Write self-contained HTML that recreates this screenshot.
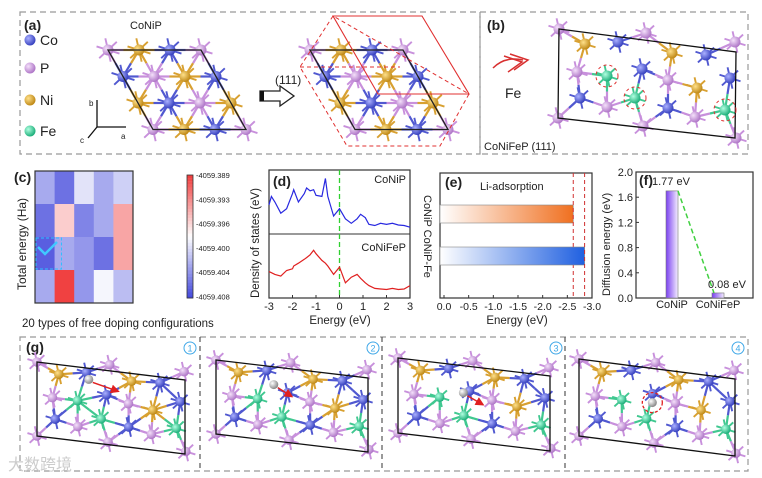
<!DOCTYPE html>
<html><head><meta charset="utf-8"><style>
html,body{margin:0;padding:0;background:#fff;}
svg{display:block;font-family:"Liberation Sans","Noto Sans CJK SC",sans-serif;}
</style></head><body>
<svg id="fig" width="762" height="478" viewBox="0 0 762 478" xmlns="http://www.w3.org/2000/svg">
<defs>
<radialGradient id="gC" cx="35%" cy="35%" r="65%"><stop offset="0" stop-color="#aab0ff"/><stop offset="1" stop-color="#3a44c0"/></radialGradient>
<radialGradient id="gP" cx="35%" cy="35%" r="65%"><stop offset="0" stop-color="#f4e0fa"/><stop offset="1" stop-color="#b078c8"/></radialGradient>
<radialGradient id="gN" cx="35%" cy="35%" r="65%"><stop offset="0" stop-color="#ffe08a"/><stop offset="1" stop-color="#c08a18"/></radialGradient>
<radialGradient id="gF" cx="35%" cy="35%" r="65%"><stop offset="0" stop-color="#b0ffe0"/><stop offset="1" stop-color="#20b07c"/></radialGradient>
<radialGradient id="gH" cx="35%" cy="35%" r="65%"><stop offset="0" stop-color="#ffffff"/><stop offset="1" stop-color="#8a8a8a"/></radialGradient>
<linearGradient id="gOr" x1="0" x2="1"><stop offset="0" stop-color="#fff"/><stop offset="1" stop-color="#f07020"/></linearGradient>
<linearGradient id="gBl" x1="0" x2="1"><stop offset="0" stop-color="#fff"/><stop offset="1" stop-color="#2060e0"/></linearGradient>
<linearGradient id="gPu" x1="0" x2="1"><stop offset="0" stop-color="#7a40f0"/><stop offset="1" stop-color="#f4eeff"/></linearGradient>
<marker id="arr" markerWidth="6" markerHeight="6" refX="5" refY="3" orient="auto"><path d="M0,0 L6,3 L0,6 z" fill="#e02020"/></marker>
</defs>
</svg>
<script>
// ---- chart data ----
const heatRows = [
  [-4059.403, -4059.406, -4059.400, -4059.403, -4059.401],
  [-4059.406, -4059.396, -4059.405, -4059.403, -4059.394],
  [-4059.407, -4059.403, -4059.404, -4059.406, -4059.394],
  [-4059.403, -4059.389, -4059.404, -4059.399, -4059.402]
];
const cbarTicks = ['-4059.389','-4059.393','-4059.396','-4059.400','-4059.404','-4059.408'];
const dosEnergy = [-3,-2.9,-2.75,-2.5,-2.25,-2,-1.95,-1.75,-1.5,-1.4,-1.25,-1.1,-1,-0.75,-0.6,-0.5,-0.25,0,0.25,0.5,0.75,0.9,1.1,1.25,1.5,1.75,2,2.25,2.5,2.75,3];
const dosCoNiP = [0.45,0.6,0.5,0.3,0.38,0.65,0.72,0.5,0.65,0.75,0.7,0.72,0.62,0.6,0.92,0.6,0.25,0.38,0.2,0.12,0.2,0.28,0.22,0.1,0.08,0.12,0.1,0.12,0.09,0.08,0.05];
const dosCoNiFeP = [0.4,0.38,0.35,0.32,0.42,0.45,0.5,0.55,0.62,0.65,0.7,0.78,0.72,0.6,0.55,0.5,0.35,0.48,0.2,0.3,0.35,0.28,0.2,0.15,0.1,0.09,0.08,0.1,0.08,0.09,0.15];
const dosTicks = [-3,-2,-1,0,1,2,3];
const adsNames = ['CoNiP','CoNiP-Fe'];
const adsValues = [-2.62, -2.85];
const adsTicks = [0,-0.5,-1,-1.5,-2,-2.5,-3];
const diffNames = ['CoNiP','CoNiFeP'];
const diffValues = [1.70, 0.08];
const diffLabels = ['1.77 eV','0.08 eV'];
const diffTicks = [0,0.4,0.8,1.2,1.6,2.0];

const NS='http://www.w3.org/2000/svg';
const svg=document.getElementById('fig');
function mk(tag, attrs, name, parent){
  const el=document.createElementNS(NS,tag);
  for(const k in attrs) el.setAttribute(k,attrs[k]);
  
  
  (parent||svg).appendChild(el);
  return el;
}
function txt(x,y,s,size,name,extra){
  const a=Object.assign({x:x,y:y,'font-size':size,fill:'#222'},extra||{});
  const t=mk('text',a,name);
  t.textContent=s;
  return t;
}
const COL={C:'#5058d0',P:'#c890dc',N:'#d8a030',F:'#40c890'};
const GR={C:'url(#gC)',P:'url(#gP)',N:'url(#gN)',F:'url(#gF)'};

// ---- panel frames ----
const dash={fill:'none',stroke:'#999','stroke-dasharray':'6,4','stroke-width':1.2};
mk('rect',Object.assign({x:20,y:12,width:460,height:142},dash),'panel-a-frame');
mk('rect',Object.assign({x:480,y:12,width:268,height:142},dash),'panel-b-frame');
mk('rect',Object.assign({x:20,y:337,width:728,height:134},dash),'panel-g-frame');
[200,382,565].forEach(function(x){ mk('line',{x1:x,y1:337,x2:x,y2:471,stroke:'#555','stroke-dasharray':'5,4','stroke-width':1.2},'panel-g-divider'); });

// ---- crystal drawing ----
function drawAtoms(atoms, r, spike, name){
  const g=mk('g',{},name);
  const sp=mk('g',{},'spikes',g);
  atoms.forEach(function(a){
    for(let k=0;k<6;k++){
      const ang=k*Math.PI/3+0.3;
      mk('line',{x1:a[0],y1:a[1],x2:a[0]+spike*Math.cos(ang),y2:a[1]+spike*Math.sin(ang),stroke:COL[a[2]],'stroke-width':1.9},'bond-stub',sp);
    }
  });
  const bd=mk('g',{},'bonds',g);
  const lim=spike*3.0;
  for(let i=0;i<atoms.length;i++) for(let j=i+1;j<atoms.length;j++){
    const a=atoms[i],b=atoms[j];
    const d=Math.hypot(a[0]-b[0],a[1]-b[1]);
    if(d<lim){
      const mx=(a[0]+b[0])/2,my=(a[1]+b[1])/2;
      mk('line',{x1:a[0],y1:a[1],x2:mx,y2:my,stroke:COL[a[2]],'stroke-width':2.2},'bond',bd);
      mk('line',{x1:mx,y1:my,x2:b[0],y2:b[1],stroke:COL[b[2]],'stroke-width':2.2},'bond',bd);
    }
  }
  atoms.forEach(function(a){ mk('circle',{cx:a[0],cy:a[1],r:r,fill:GR[a[2]]},'atom-'+a[2],g); });
  return g;
}
function triLattice(ox,oy,rows,name){
  const atoms=[];
  rows.forEach(function(row,j){ for(let i=0;i<row.length;i++) atoms.push([ox+i*31+j*15, oy+j*26.5, row[i]]); });
  drawAtoms(atoms,5.5,12,name);
  mk('polygon',{points:[ox,oy,ox+93,oy,ox+138,oy+79.5,ox+45,oy+79.5].join(','),fill:'none',stroke:'#222','stroke-width':1.3},name+'-cell');
}
// panel a
txt(24,30,'(a)',14,'panel-a-label',{'font-weight':'bold'});
[['C','Co',40],['P','P',68],['N','Ni',100],['F','Fe',131]].forEach(function(e){
  mk('circle',{cx:30,cy:e[2],r:5.5,fill:GR[e[0]]},'legend-marker-'+e[1]);
  txt(40,e[2]+5,e[1],14,'legend-label-'+e[1]);
});
txt(130,29,'CoNiP',11,'structure-title');
triLattice(108,50,['PNCP','CPNC','NCPN','PNCP'],'conip-structure');
mk('line',{x1:97,y1:127,x2:97,y2:100,stroke:'#111','stroke-width':1.3},'axis-b');
mk('line',{x1:97,y1:127,x2:126,y2:127,stroke:'#111','stroke-width':1.3},'axis-a');
mk('line',{x1:97,y1:127,x2:88,y2:138,stroke:'#111','stroke-width':1.3},'axis-c');
txt(89,106,'b',8,'axis-b-label');txt(121,139,'a',8,'axis-a-label');txt(80,143,'c',8,'axis-c-label');
txt(275,84,'(111)',12,'plane-label');
mk('path',{d:'M260,91 h20 v-5 l14,10 l-14,10 v-5 h-20 z',fill:'#fff',stroke:'#222','stroke-width':1.3},'transform-arrow');
mk('rect',{x:260,y:91,width:4,height:10,fill:'#111'},'arrow-tail');
triLattice(310,50,['PNCP','CPNC','NCPN','PNCP'],'slab-structure');
mk('polygon',{points:'333,16 422,16 469,94 378,94',fill:'none',stroke:'#e03030','stroke-width':1.1},'plane-solid');
mk('polygon',{points:'333,16 300,67 347,146 440,146 469,94',fill:'none',stroke:'#e03030','stroke-width':1,'stroke-dasharray':'4,3'},'plane-dashed');
mk('line',{x1:300,y1:67,x2:400,y2:67,stroke:'#e03030','stroke-width':1,'stroke-dasharray':'4,3'},'plane-dashed-inner');

// panel b + g atoms
const baseTL=[559,29], baseE1=[177,23], baseE2=[-1,89];
const baseAtoms=[[559,29,'P'],[585,44,'N'],[618,42,'C'],[646,33,'P'],[672,53,'N'],[706,55,'C'],[735,42,'P'],
 [577,72,'P'],[607,76,'F'],[642,69,'C'],[668,80,'P'],[730,78,'C'],
 [580,98,'C'],[607,107,'P'],[635,98,'F'],[668,108,'C'],[697,88,'N'],[695,117,'P'],[725,110,'F'],
 [558,118,'P'],[643,126,'P'],[736,138,'P']];
function mapAtoms(tl,e1,e2){
  const det=baseE1[0]*baseE2[1]-baseE1[1]*baseE2[0];
  return baseAtoms.map(function(a){
    const dx=a[0]-baseTL[0], dy=a[1]-baseTL[1];
    const u=(dx*baseE2[1]-dy*baseE2[0])/det, v=(baseE1[0]*dy-baseE1[1]*dx)/det;
    return [tl[0]+u*e1[0]+v*e2[0], tl[1]+u*e1[1]+v*e2[1], a[2]];
  });
}
function cell(tl,e1,e2,name){
  mk('polygon',{points:[tl[0],tl[1],tl[0]+e1[0],tl[1]+e1[1],tl[0]+e1[0]+e2[0],tl[1]+e1[1]+e2[1]+(name.indexOf('b')>=0?-3:0),tl[0]+e2[0],tl[1]+e2[1]].join(','),fill:'none',stroke:'#111','stroke-width':1.3},name);
}
txt(487,30,'(b)',14,'panel-b-label',{'font-weight':'bold'});
mk('path',{d:'M493,68 q12,-12 30,-8',fill:'none',stroke:'#d83030','stroke-width':1.5},'fe-arrow-curve');
mk('path',{d:'M510,54 l18,6 l-14,10 M504,56 l18,6 l-14,10',fill:'none',stroke:'#d83030','stroke-width':1.5},'fe-arrow-head');
txt(505,98,'Fe',14,'fe-label');
drawAtoms(baseAtoms,5.5,11,'conifep-structure');
cell(baseTL,baseE1,baseE2,'panel-b-cell');
[[607,76],[635,98],[725,110]].forEach(function(p){ mk('circle',{cx:p[0],cy:p[1],r:11,fill:'none',stroke:'#e03030','stroke-dasharray':'3,3','stroke-width':1},'fe-site-highlight'); });
txt(484,150,'CoNiFeP (111)',11,'panel-b-caption');

// panel g
txt(26,352,'(g)',14,'panel-g-label',{'font-weight':'bold'});
const gPanels=[[[37,362],[148,18],[0,74]],[[216,360],[152,18],[0,74]],[[398,358],[152,18],[0,75]],[[579,359],[156,20],[0,77]]];
const hPos=[[0.35,0.25,0.55,0.45],[0.38,0.4,0.5,0.55],[0.43,0.6,0.56,0.75],[0.47,0.74,null,null]];
gPanels.forEach(function(p,k){
  drawAtoms(mapAtoms(p[0],p[1],p[2]),4.8,10,'step-'+(k+1)+'-structure');
  cell(p[0],p[1],p[2],'step-'+(k+1)+'-cell');
  const h=hPos[k];
  const hx=p[0][0]+h[0]*p[1][0], hy=p[0][1]+h[0]*p[1][1]+h[1]*p[2][1]*0.6;
  mk('circle',{cx:hx,cy:hy,r:4.5,fill:'url(#gH)'},'li-atom');
  if(h[2]!==null){
    const tx=p[0][0]+h[2]*p[1][0], ty=hy+12;
    mk('line',{x1:hx+4,y1:hy+3,x2:tx,y2:ty,stroke:'#e02020','stroke-width':1.5,'marker-end':'url(#arr)'},'diffusion-arrow');
  } else {
    mk('circle',{cx:hx,cy:hy,r:10,fill:'none',stroke:'#e02020','stroke-dasharray':'3,2','stroke-width':1.3},'final-site-highlight');
  }
  const cx=[190,373,556,738][k];
  mk('circle',{cx:cx,cy:348,r:6,fill:'none',stroke:'#40a8e8','stroke-width':1},'step-badge');
  txt(cx,351.5,String(k+1),9,'step-number',{fill:'#40a8e8','text-anchor':'middle'});
});
txt(8,470,'大数跨境',16,'watermark',{fill:'#ccc'});

// ---- (c) heatmap ----
txt(14,182,'(c)',14,'panel-c-label',{'font-weight':'bold'});
const hx0=35,hy0=171,cw=19.6,ch=33;
function heatColor(v){
  const t=(v-(-4059.408))/((-4059.389)-(-4059.408));
  let r,g,b;
  if(t<0.5){const s=t/0.5; r=70+185*s; g=75+180*s; b=220+35*s;}
  else {const s=(t-0.5)/0.5; r=255-15*s; g=255-190*s; b=255-190*s;}
  return 'rgb('+Math.round(r)+','+Math.round(g)+','+Math.round(b)+')';
}
heatRows.forEach(function(row,j){ row.forEach(function(v,i){
  mk('rect',{x:hx0+i*cw,y:hy0+j*ch,width:cw+0.3,height:ch+0.3,fill:heatColor(v)},'heat-cell');
});});
mk('rect',{x:hx0,y:hy0,width:cw*5,height:ch*4,fill:'none',stroke:'#333','stroke-width':1.2},'heatmap-frame');
mk('rect',{x:hx0+1,y:hy0+2*ch+1,width:cw*1.3,height:ch-2,fill:'none',stroke:'#30c0ff','stroke-dasharray':'3,2','stroke-width':1},'selected-config');
mk('path',{d:'M38,247 l7,7 l12,-12',fill:'none',stroke:'#40c8ff','stroke-width':2.5},'check-mark');
for(let i=0;i<40;i++){
  const v=-4059.389-(0.019*i/39);
  mk('rect',{x:187,y:175+i*3.08,width:6,height:3.3,fill:heatColor(v)},'colorbar-segment');
}
mk('rect',{x:187,y:175,width:6,height:123,fill:'none',stroke:'#333','stroke-width':0.8},'colorbar-frame');
cbarTicks.forEach(function(s,i){ txt(196,178+i*24.3,s,7.5,'colorbar-tick-label'); });
txt(0,0,'Total energy (Ha)',12,'y-axis-title',{transform:'translate(26,290) rotate(-90)'});
txt(22,327,'20 types of free doping configurations',11.5,'x-axis-title');

// ---- (d) DOS ----
const dx0=269,dx1=410,dy0=170,dmid=234,dy1=298;
function dX(e){return dx0+(e+3)/6*(dx1-dx0);}
mk('rect',{x:dx0,y:dy0,width:dx1-dx0,height:dy1-dy0,fill:'none',stroke:'#333','stroke-width':1.2},'dos-frame');
mk('line',{x1:dx0,y1:dmid,x2:dx1,y2:dmid,stroke:'#333','stroke-width':1},'dos-divider');
mk('line',{x1:dX(0),y1:dy0,x2:dX(0),y2:dy1,stroke:'#30d030','stroke-dasharray':'5,3','stroke-width':1.3},'fermi-level');
function dosLine(vals,top,bot,color,name){
  const pts=dosEnergy.map(function(e,i){return dX(e).toFixed(1)+','+(bot-4-vals[i]*(bot-top-8)).toFixed(1);});
  mk('polyline',{points:pts.join(' '),fill:'none',stroke:color,'stroke-width':1.2},name);
}
dosLine(dosCoNiP,dy0,dmid,'#2828e0','dos-conip');
dosLine(dosCoNiFeP,dmid,dy1,'#e02020','dos-conifep');
txt(273,186,'(d)',14,'panel-d-label',{'font-weight':'bold'});
txt(406,183,'CoNiP',11,'dos-conip-label',{'text-anchor':'end'});
txt(406,251,'CoNiFeP',11,'dos-conifep-label',{'text-anchor':'end'});
dosTicks.forEach(function(e){
  mk('line',{x1:dX(e),y1:dy1,x2:dX(e),y2:dy1-3,stroke:'#333'},'dos-x-tick');
  txt(dX(e),310,String(e),11,'dos-x-tick-label',{'text-anchor':'middle'});
});
txt(340,324,'Energy (eV)',11.5,'dos-x-axis-title',{'text-anchor':'middle'});
txt(0,0,'Density of states (eV)',11.5,'dos-y-axis-title',{transform:'translate(259,298) rotate(-90)'});

// ---- (e) adsorption ----
const ex0=440,ex1=592,ey0=173,ey1=298;
function eX(v){return 444+(-v)/3*148;}
mk('rect',{x:ex0,y:ey0,width:ex1-ex0,height:ey1-ey0,fill:'none',stroke:'#333','stroke-width':1.2},'adsorption-frame');
const barY=[205,247], barFill=['url(#gOr)','url(#gBl)'];
adsValues.forEach(function(v,i){
  mk('rect',{x:ex0,y:barY[i],width:eX(v)-ex0,height:18,fill:barFill[i],stroke:'#888','stroke-width':0.6},'adsorption-bar-'+adsNames[i]);
  mk('line',{x1:eX(v),y1:ey0,x2:eX(v),y2:ey1,stroke:'#d03030','stroke-dasharray':'4,3','stroke-width':1},'adsorption-ref-line');
});
txt(445,187,'(e)',14,'panel-e-label',{'font-weight':'bold'});
txt(480,190,'Li-adsorption',11,'adsorption-title');
adsTicks.forEach(function(v){
  mk('line',{x1:eX(v),y1:ey1,x2:eX(v),y2:ey1-3,stroke:'#333'},'ads-x-tick');
  txt(eX(v),310,v.toFixed(1),10.5,'ads-x-tick-label',{'text-anchor':'middle'});
});
txt(517,324,'Energy (eV)',11.5,'ads-x-axis-title',{'text-anchor':'middle'});
txt(0,0,'CoNiP CoNiP-Fe',11,'ads-y-labels',{transform:'translate(424,195) rotate(90)'});

// ---- (f) diffusion ----
const fx0=636,fx1=753,fy0=172,fy1=298;
function fY(v){return fy1-v/2*(fy1-fy0);}
const fCx=[672,718];
mk('rect',{x:fx0,y:fy0,width:fx1-fx0,height:fy1-fy0,fill:'none',stroke:'#333','stroke-width':1.2},'diffusion-frame');
diffTicks.forEach(function(v){
  mk('line',{x1:fx0,y1:fY(v),x2:fx0+3,y2:fY(v),stroke:'#333'},'diff-y-tick');
  txt(fx0-3,fY(v)+4,v.toFixed(1),11,'diff-y-tick-label',{'text-anchor':'end'});
});
diffValues.forEach(function(v,i){
  mk('rect',{x:fCx[i]-6,y:fY(v),width:12,height:fy1-fY(v),fill:'url(#gPu)',stroke:'#777','stroke-width':0.6},'diffusion-bar-'+diffNames[i]);
  txt(fCx[i],308,diffNames[i],11,'diff-x-tick-label',{'text-anchor':'middle'});
});
mk('line',{x1:fCx[0]+6,y1:fY(diffValues[0]),x2:fCx[1]-4,y2:fY(diffValues[1]),stroke:'#40d040','stroke-dasharray':'5,3','stroke-width':1.5},'diffusion-trend');
txt(639,185,'(f)',14,'panel-f-label',{'font-weight':'bold'});
txt(fCx[0]-20,fY(diffValues[0])-6,diffLabels[0],11,'diff-value-label');
txt(fCx[1]-10,fY(diffValues[1])-5,diffLabels[1],11,'diff-value-label');
txt(0,0,'Diffusion energy (eV)',11,'diff-y-axis-title',{transform:'translate(610,296) rotate(-90)'});
</script>
</body></html>
